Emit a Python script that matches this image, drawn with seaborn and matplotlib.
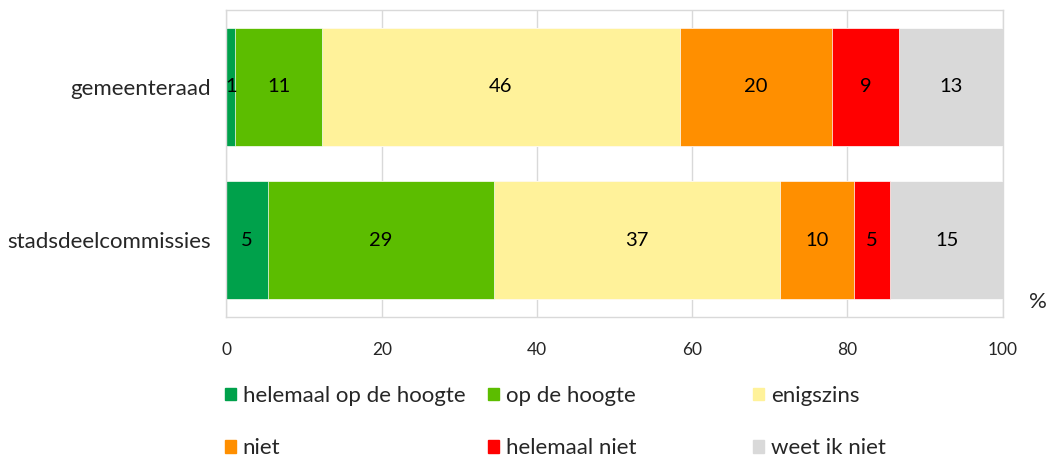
import pandas as pd
import matplotlib
matplotlib.use("Agg")
import matplotlib.pyplot as plt
import matplotlib.patches as mpatches
import seaborn as sns

# data
groups = ["gemeenteraad", "stadsdeelcommissies"]
answers = ["helemaal op de hoogte", "op de hoogte", "enigszins",
           "niet", "helemaal niet", "weet ik niet"]
gemeenteraad = [1.1, 11.2, 46.1, 19.6, 8.7, 13.3]
stadsdeelcommissies = [5.3, 29.2, 36.8, 9.6, 4.6, 14.6]
ticks = [0, 20, 40, 60, 80, 100]

colors = ["#00A14B", "#5CBD00", "#FFF29A", "#FF8F00", "#FF0000", "#D9D9D9"]
gridcol = "#D9D9D9"

sns.set_theme(style="white")
plt.rcParams["font.family"] = ["Lato", "DejaVu Sans"]

df = pd.DataFrame({"gemeenteraad": gemeenteraad,
                   "stadsdeelcommissies": stadsdeelcommissies},
                  index=answers)
cum = df.cumsum()

f, ax = plt.subplots(figsize=(10.52, 4.58), dpi=100)
f.subplots_adjust(left=0.2153, right=0.9531, top=0.978, bottom=0.3085)

# stacked bars: draw cumulative totals from the back to the front
for ans, col in reversed(list(zip(answers, colors))):
    d = pd.DataFrame({"groep": groups, "waarde": cum.loc[ans, groups].values})
    sns.barplot(data=d, x="waarde", y="groep", order=groups, color=col,
                width=0.77, orient="h", ax=ax, saturation=1,
                edgecolor="white", linewidth=0.5)

# value labels in the middle of each segment
for i, g in enumerate(groups):
    for ans in answers:
        v = df.loc[ans, g]
        ax.text(cum.loc[ans, g] - v / 2, i, f"{v:.0f}", ha="center", va="center",
                fontsize=14.5, color="black")

ax.set_xlim(0, 100)
ax.set_ylim(1.5, -0.5)
ax.set_xticks(ticks)
ax.set_xticklabels([str(t) for t in ticks])
ax.xaxis.grid(True, color=gridcol, linewidth=1)
ax.set_axisbelow(True)
ax.set_xlabel("")
ax.set_ylabel("")
ax.tick_params(axis="x", length=0, pad=18, labelsize=12.5)
ax.tick_params(axis="y", length=0, pad=11, labelsize=16)
for s in ax.spines.values():
    s.set_color(gridcol)
    s.set_linewidth(1)

f.text(1038 / 1052, 1 - 302 / 458, "%", ha="center", va="center", fontsize=16)

# legend: three columns at fixed positions, like the original
xs = [225, 488, 753]
for c in range(3):
    handles = [mpatches.Patch(color=colors[c + 3 * r], label=answers[c + 3 * r])
               for r in range(2)]
    f.legend(handles=handles, loc="upper left",
             bbox_to_anchor=(xs[c] / 1052, 1 - 386 / 458),
             frameon=False, fontsize=16, ncol=1,
             handlelength=0.5, handleheight=0.5, handletextpad=0.3,
             labelspacing=1.45, borderpad=0, borderaxespad=0)

f.savefig("out.png", dpi=100)
